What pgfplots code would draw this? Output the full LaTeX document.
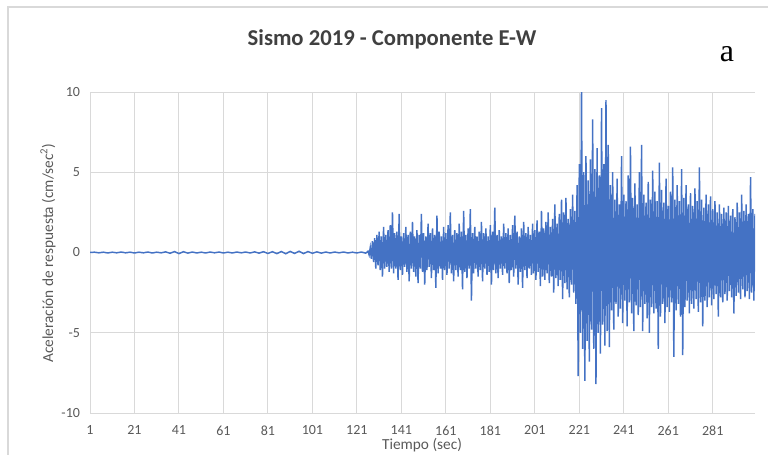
\documentclass[border=0pt]{standalone}
\usepackage{fontspec}
\setmainfont{Carlito}
\newfontfamily\serifa{Liberation Serif}
\usepackage{pgfplots}
\pgfplotsset{compat=1.18}
\definecolor{xlblue}{HTML}{4472C4}
\definecolor{gridgray}{HTML}{D9D9D9}
\definecolor{txtgray}{HTML}{595959}
\definecolor{ttlgray}{HTML}{404040}
\begin{document}
\begin{tikzpicture}
% pixel (px,py) of the 768x454 reference -> (0.75px pt, 0.75(454-py) pt)
\path[use as bounding box] (0,0) rectangle (576pt,340.5pt);
\draw[gridgray, line width=0.8pt] (6pt,-5pt) |- (580pt,335.25pt);
\begin{axis}[
    at={(67.5pt,30.75pt)}, anchor=south west,
    scale only axis,
    width=498.75pt, height=240.75pt,
    xmin=1, xmax=300,
    ymin=-10, ymax=10,
    xtick={1,21,...,281},
    ytick={-10,-5,0,5,10},
    grid=major,
    major grid style={draw=gridgray, line width=0.7pt},
    axis line style={draw=none},
    tick style={draw=none},
    /pgf/number format/assume math mode=true,
    ticklabel style={font=\fontsize{10.5}{12}\selectfont, text=txtgray},
    xticklabel style={yshift=-6pt},
    yticklabel style={xshift=-4pt},
]
% Registro E-W: tramo tranquilo y fase intensa
\addplot[xlblue, line width=1.1pt] coordinates {
(1,0.00)(3,0.02)(5,-0.02)(7,0.02)(9,-0.03)(11,0.02)(13,-0.02)(15,0.03)(17,-0.02)(19,0.02)
(21,-0.03)(23,0.02)(25,-0.02)(27,0.03)(29,-0.03)(31,0.02)(33,-0.02)(35,0.04)(37,-0.05)(39,0.06)
(41,-0.07)(43,0.05)(45,-0.04)(47,0.03)(49,-0.03)(51,0.02)(53,-0.03)(55,0.03)(57,-0.02)(59,0.03)
(61,-0.03)(63,0.02)(65,-0.03)(67,0.03)(69,-0.02)(71,0.03)(73,-0.03)(75,0.04)(77,-0.04)(79,0.05)
(81,-0.06)(83,0.05)(85,-0.07)(87,0.06)(89,-0.08)(91,0.07)(93,-0.06)(95,0.08)(97,-0.07)(99,0.06)
(101,-0.05)(103,0.04)(105,-0.04)(107,0.03)(109,-0.03)(111,0.03)(113,-0.02)(115,0.03)(117,-0.03)(119,0.02)
(121,-0.03)(123,0.03)(125,-0.04)(126,0.08)(126.5,-0.15)
(127,0.3)(127.5,-0.4)(128,0.7)(128.5,-0.6)(129,0.9)(129.5,-1.0)(130,1.1)(130.5,-0.8)
(131,1.3)(131.5,-1.1)(132,1.0)(132.5,-1.5)(133,1.6)(133.5,-1.0)(134,1.1)(134.5,-0.9)
(135,1.4)(135.5,-1.2)(136,1.7)(136.5,-1.0)(137,2.5)(137.5,-1.3)(138,1.2)(138.5,-1.0)
(139,1.3)(139.5,-1.7)(140,2.4)(140.5,-1.1)(141,1.0)(141.5,-1.4)(142,1.2)(142.5,-0.9)
(143,1.6)(143.5,-1.2)(144,1.1)(144.5,-1.8)(145,1.3)(145.5,-1.0)(146,1.9)(146.5,-1.2)
(147,1.0)(147.5,-1.5)(148,1.4)(148.5,-1.9)(149,1.1)(149.5,-1.0)(150,2.4)(150.5,-1.2)
(151,1.2)(151.5,-2.0)(152,1.0)(152.5,-1.1)(153,1.8)(153.5,-0.9)(154,1.2)(154.5,-1.6)
(155,1.5)(155.5,-1.1)(156,1.1)(156.5,-2.2)(157,2.3)(157.5,-1.3)(158,1.3)(158.5,-1.0)
(159,1.0)(159.5,-1.7)(160,1.6)(160.5,-1.1)(161,1.2)(161.5,-1.4)(162,1.7)(162.5,-1.0)
(163,2.5)(163.5,-1.3)(164,1.1)(164.5,-1.8)(165,1.4)(165.5,-1.1)(166,1.2)(166.5,-1.5)
(167,1.8)(167.5,-1.1)(168,1.3)(168.5,-2.3)(169,2.6)(169.5,-1.2)(170,1.1)(170.5,-1.6)
(171,1.5)(171.5,-1.0)(172,2.7)(172.5,-3.0)(173,1.2)(173.5,-1.3)(174,1.6)(174.5,-1.0)
(175,1.0)(175.5,-1.5)(176,1.3)(176.5,-1.1)(177,1.9)(177.5,-1.8)(178,1.2)(178.5,-1.0)
(179,1.5)(179.5,-1.4)(180,1.0)(180.5,-1.2)(181,1.7)(181.5,-2.0)(182,1.3)(182.5,-1.1)
(183,2.8)(183.5,-1.3)(184,1.1)(184.5,-1.6)(185,1.4)(185.5,-1.0)(186,1.0)(186.5,-1.4)
(187,1.8)(187.5,-1.0)(188,1.2)(188.5,-1.3)(189,1.5)(189.5,-1.9)(190,1.1)(190.5,-1.1)
(191,1.7)(191.5,-1.5)(192,2.3)(192.5,-1.0)(193,1.3)(193.5,-2.0)(194,1.0)(194.5,-1.2)
(195,1.5)(195.5,-2.2)(196,1.9)(196.5,-1.1)(197,1.2)(197.5,-1.6)(198,1.6)(198.5,-1.0)
(199,1.1)(199.5,-1.4)(200,1.8)(200.5,-1.3)(201,1.4)(201.5,-1.7)(202,2.0)(202.5,-1.2)
(203,1.3)(203.5,-2.1)(204,2.6)(204.5,-1.5)(205,1.5)(205.5,-1.7)(206,1.9)(206.5,-1.3)
(207,2.5)(207.5,-1.9)(208,1.6)(208.5,-1.5)(209,2.1)(209.5,-2.5)(210,3.0)(210.5,-1.6)
(211,1.8)(211.5,-2.1)(212,2.4)(212.5,-1.7)(213,3.3)(213.5,-2.9)(214,2.5)(214.5,-1.9)
(215,3.4)(215.5,-2.3)(216,2.1)(216.5,-2.8)(217,2.7)(217.5,-2.0)(218,3.6)(218.5,-2.5)
(219,2.6)(219.5,-3.2)(220,4.2)(220.5,-7.7)(221,5.5)(221.5,-5.0)(222,10.5)(222.5,-6.0)
(223,5.0)(223.5,-8.0)(224,6.0)(224.5,-5.5)(225,4.5)(225.5,-6.8)(226,5.8)(226.5,-4.8)
(227,8.3)(227.5,-6.0)(228,5.2)(228.5,-8.2)(229,6.5)(229.5,-5.0)(230,4.8)(230.5,-6.3)
(231,9.0)(231.5,-4.5)(232,5.5)(232.5,-5.8)(233,9.5)(233.5,-4.9)(234,6.7)(234.5,-5.9)
(235,4.2)(235.5,-3.6)(236,5.0)(236.5,-4.8)(237,3.3)(237.5,-3.2)(238,4.6)(238.5,-4.0)
(239,3.0)(239.5,-3.5)(240,6.0)(240.5,-4.4)(241,3.6)(241.5,-3.0)(242,3.2)(242.5,-4.6)
(243,4.8)(243.5,-3.1)(244,6.6)(244.5,-3.8)(245,3.4)(245.5,-4.9)(246,4.3)(246.5,-3.3)
(247,3.0)(247.5,-3.9)(248,5.0)(248.5,-3.4)(249,6.7)(249.5,-4.9)(250,3.6)(250.5,-3.2)
(251,3.1)(251.5,-4.1)(252,4.4)(252.5,-5.0)(253,3.3)(253.5,-3.4)(254,5.1)(254.5,-3.8)
(255,3.8)(255.5,-3.5)(256,3.2)(256.5,-6.0)(257,5.6)(257.5,-4.0)(258,3.9)(258.5,-3.2)
(259,3.1)(259.5,-4.4)(260,4.6)(260.5,-3.4)(261,2.9)(261.5,-3.7)(262,3.8)(262.5,-3.1)
(263,5.3)(263.5,-6.5)(264,3.3)(264.5,-3.6)(265,4.2)(265.5,-3.2)(266,3.2)(266.5,-4.0)
(267,5.2)(267.5,-6.4)(268,3.4)(268.5,-3.4)(269,4.2)(269.5,-3.0)(270,3.0)(270.5,-3.8)
(271,3.7)(271.5,-3.2)(272,2.9)(272.5,-3.5)(273,4.0)(273.5,-2.9)(274,3.2)(274.5,-3.7)
(275,5.3)(275.5,-3.1)(276,3.3)(276.5,-4.6)(277,2.8)(277.5,-3.0)(278,3.6)(278.5,-3.4)
(279,3.0)(279.5,-2.8)(280,3.5)(280.5,-3.3)(281,2.7)(281.5,-2.9)(282,3.2)(282.5,-2.6)
(283,2.5)(283.5,-4.0)(284,3.0)(284.5,-2.8)(285,2.4)(285.5,-3.1)(286,2.8)(286.5,-2.6)
(287,2.5)(287.5,-3.0)(288,2.9)(288.5,-2.4)(289,2.3)(289.5,-2.8)(290,2.7)(290.5,-3.8)
(291,2.2)(291.5,-2.7)(292,3.1)(292.5,-2.5)(293,2.5)(293.5,-2.9)(294,3.6)(294.5,-2.3)
(295,2.6)(295.5,-2.8)(296,3.0)(296.5,-2.4)(297,2.4)(297.5,-2.9)(298,4.7)(298.5,-2.5)
(299,2.7)(299.5,-3.0)(300,2.4)
};
\end{axis}
\node[text=ttlgray, font=\fontsize{17}{20}\selectfont\bfseries] at (294pt,311.25pt) {Sismo 2019 - Componente E-W};
\node[anchor=base, font=\serifa\fontsize{24}{28}\selectfont] at (545.25pt,294pt) {a};
\node[rotate=90, text=txtgray, font=\fontsize{11.5}{13}\selectfont] at (36pt,150.75pt) {Aceleración de respuesta (cm/sec\textsuperscript{2})};
\node[text=txtgray, font=\fontsize{11.5}{13}\selectfont] at (316.5pt,6.75pt) {Tiempo (sec)};
\end{tikzpicture}
\end{document}
